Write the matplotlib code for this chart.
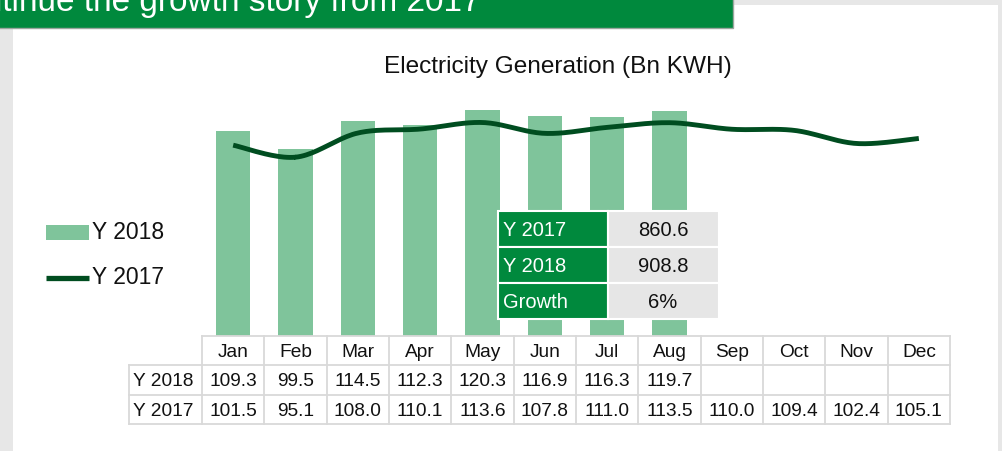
import numpy as np
import matplotlib
matplotlib.use("Agg")
import matplotlib.pyplot as plt
from matplotlib.patches import Rectangle

# data
months = ["Jan", "Feb", "Mar", "Apr", "May", "Jun",
          "Jul", "Aug", "Sep", "Oct", "Nov", "Dec"]
gen_2018 = [109.3, 99.5, 114.5, 112.3, 120.3, 116.9, 116.3, 119.7]
gen_2017 = [101.5, 95.1, 108.0, 110.1, 113.6, 107.8, 111.0, 113.5,
            110.0, 109.4, 102.4, 105.1]
series_names = ["Y 2018", "Y 2017"]
summary_labels = ["Y 2017", "Y 2018", "Growth"]

title = "Electricity Generation (Bn KWH)"
banner = "Continue the growth story from 2017"

W, H = 1003, 452
BG = "#e7e7e7"
BANNER_GREEN = "#00893d"
BAR_GREEN = "#7fc49b"
LINE_GREEN = "#004d20"
GRID = "#d9d9d9"
FONT = ["Liberation Sans", "DejaVu Sans"]


def smooth(xs, ys, n=24):
    # catmull-rom curve through the points, close to excel's smoothed line
    pts = np.column_stack([xs, ys]).astype(float)
    p = np.vstack([pts[0], pts, pts[-1]])
    t = np.linspace(0, 1, n)[:, None]
    segs = []
    for i in range(1, len(p) - 2):
        p0, p1, p2, p3 = p[i - 1], p[i], p[i + 1], p[i + 2]
        seg = 0.5 * (2 * p1 + (-p0 + p2) * t
                     + (2 * p0 - 5 * p1 + 4 * p2 - p3) * t ** 2
                     + (-p0 + 3 * p1 - 3 * p2 + p3) * t ** 3)
        segs.append(seg)
    out = np.vstack(segs)
    return out[:, 0], out[:, 1]


fig = plt.figure(figsize=(W / 100, H / 100), dpi=100)
fig.patch.set_facecolor(BG)

# background layer in pixel coordinates
bg = fig.add_axes([0, 0, 1, 1], zorder=0)
bg.set_xlim(0, W)
bg.set_ylim(H, 0)
bg.axis("off")
bg.add_patch(Rectangle((13, 6), 985, H, facecolor="white", edgecolor="none"))
bg.add_patch(Rectangle((-5, -5), 738, 34, facecolor=BANNER_GREEN,
                       edgecolor="#9aa69e", lw=1))
# the slide title runs off the top-left of the crop, as in the source
bg.text(481, 11, banner, color="white", ha="right", va="baseline",
        fontsize=24, family=FONT)
bg.text(558, 73, title, ha="center", va="baseline", fontsize=17.6,
        family=FONT, color="#111111")

# legend
bg.add_patch(Rectangle((46, 226), 43, 15, facecolor=BAR_GREEN, edgecolor="none"))
bg.plot([46, 89], [279, 279], color=LINE_GREEN, lw=3.8, solid_capstyle="butt")
bg.text(92, 233, series_names[0], ha="left", va="center", fontsize=16.5,
        family=FONT, color="#111111")
bg.text(92, 278, series_names[1], ha="left", va="center", fontsize=16.5,
        family=FONT, color="#111111")

# chart
x0, x1 = 202, 950
y_zero, px_per_unit, ymax = 336.5, 1.875, 140
ax = fig.add_axes([x0 / W, (H - y_zero) / H, (x1 - x0) / W,
                   ymax * px_per_unit / H], zorder=1)
ax.patch.set_alpha(0)
xs = np.arange(len(months))
ax.bar(xs[:len(gen_2018)], gen_2018, width=0.55, color=BAR_GREEN, zorder=2)
sx, sy = smooth(xs, gen_2017)
ax.plot(sx, sy, color=LINE_GREEN, lw=3.5, zorder=3, solid_capstyle="butt")
ax.set_xlim(-0.5, len(months) - 0.5)
ax.set_ylim(0, ymax)
ax.axis("off")

# overlay for the tables
ov = fig.add_axes([0, 0, 1, 1], zorder=2)
ov.patch.set_alpha(0)
ov.set_xlim(0, W)
ov.set_ylim(H, 0)
ov.axis("off")

# data table under the chart
col_w = (x1 - x0) / len(months)
rows = [337, 366, 396, 425]
lab_x = 129
for i, m in enumerate(months):
    cx = x0 + (i + 0.5) * col_w
    ov.text(cx, (rows[0] + rows[1]) / 2 + 1, m, ha="center", va="center",
            fontsize=13.8, family=FONT, color="#111111")
    vals = [gen_2018[i] if i < len(gen_2018) else None, gen_2017[i]]
    for r, v in enumerate(vals):
        if v is not None:
            ov.text(cx, (rows[r + 1] + rows[r + 2]) / 2 + 1, f"{v:.1f}",
                    ha="center", va="center", fontsize=13.8, family=FONT,
                    color="#111111")
for r, name in enumerate(series_names):
    ov.text(lab_x + 4, (rows[r + 1] + rows[r + 2]) / 2 + 1, name, ha="left",
            va="center", fontsize=13.8, family=FONT, color="#111111")

lw_grid = 1.3
ov.plot([x0, x1], [rows[0], rows[0]], color=GRID, lw=lw_grid)
for y in rows[1:]:
    ov.plot([lab_x, x1], [y, y], color=GRID, lw=lw_grid)
ov.plot([lab_x, lab_x], [rows[1], rows[3]], color=GRID, lw=lw_grid)
for i in range(len(months) + 1):
    x = x0 + i * col_w
    ov.plot([x, x], [rows[0], rows[3]], color=GRID, lw=lw_grid)

# summary box over the bars
total_17 = sum(gen_2017[:len(gen_2018)])
total_18 = sum(gen_2018)
summary_values = [f"{total_17:.1f}", f"{total_18:.1f}",
                  f"{(total_18 / total_17 - 1) * 100:.0f}%"]
box_rows = [212, 248, 284, 320]
for r, (lab, val) in enumerate(zip(summary_labels, summary_values)):
    top, bot = box_rows[r], box_rows[r + 1]
    ov.add_patch(Rectangle((498, top), 110, bot - top, facecolor=BANNER_GREEN,
                           edgecolor="white", lw=1.5))
    ov.add_patch(Rectangle((608, top), 111, bot - top, facecolor="#e6e6e6",
                           edgecolor="white", lw=1.5))
    ov.text(503, (top + bot) / 2 + 1, lab, ha="left", va="center",
            fontsize=14.5, family=FONT, color="white")
    ov.text(663, (top + bot) / 2 + 1, val, ha="center", va="center",
            fontsize=14.5, family=FONT, color="#111111")

fig.savefig("out.png", dpi=100, facecolor=BG)
